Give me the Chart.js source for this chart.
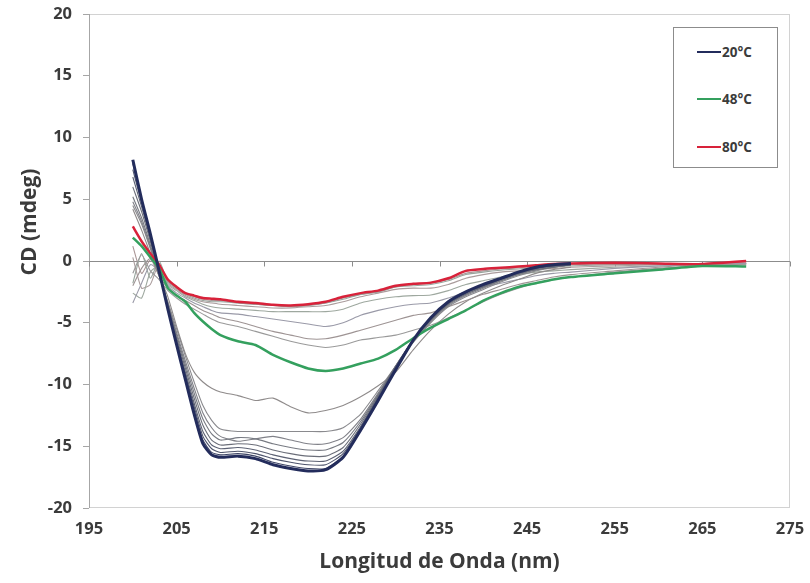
<!DOCTYPE html>
<html>
<head>
<meta charset="utf-8">
<script src="https://cdn.jsdelivr.net/npm/chart.js@4.4.1/dist/chart.umd.min.js"></script>
<style>
  html, body { margin: 0; padding: 0; background: #ffffff; }
  #wrap { position: relative; width: 810px; height: 583px; }
  #legend {
    position: absolute; left: 673px; top: 27px; width: 105px; height: 141px;
    border: 1.5px solid #8c8c8c; background: #fff; box-sizing: border-box;
    font-family: "Open Sans", "Liberation Sans", sans-serif; font-weight: 700;
    font-size: 13.5px; color: #3b3b3b;
  }
  .item { position: absolute; left: 23px; height: 18px; display: flex; align-items: center; }
  .sw { width: 24px; height: 2px; margin-right: 1px; }
</style>
</head>
<body>
<div id="wrap">
  <canvas id="c" width="810" height="583"></canvas>
  <div id="legend"></div>
</div>
<script>
// ---- data ----
const wavelengths = [200,201,202,203,204,205,206,207,208,209,210,212,214,216,218,220,222,224,226,228,230,232,234,236,238,240,242,244,246,248,250,255,260,265,270];
const xTicks = [195,205,215,225,235,245,255,265,275];
const yTicks = [-20,-15,-10,-5,0,5,10,15,20];

const t20 = [8.2,5.0,2.2,-0.8,-3.9,-6.8,-9.6,-12.4,-14.8,-15.7,-15.9,-15.8,-16.0,-16.5,-16.8,-17.0,-16.9,-15.9,-13.7,-11.3,-8.8,-6.4,-4.6,-3.3,-2.5,-1.9,-1.4,-0.9,-0.5,-0.3,-0.2,null,null,null,null];
const t24 = [7.9,4.9,2.1,-0.9,-3.9,-6.7,-9.4,-12.1,-14.5,-15.5,-15.7,-15.6,-15.8,-16.3,-16.6,-16.8,-16.8,-15.8,-13.6,-11.2,-8.7,-6.4,-4.6,-3.3,-2.5,-1.9,-1.4,-0.9,-0.5,-0.3,-0.2,null,null,null,null];
const t28 = [7.4,4.7,2.0,-0.9,-3.8,-6.6,-9.2,-11.8,-14.2,-15.2,-15.5,-15.4,-15.6,-16.0,-16.3,-16.5,-16.5,-15.6,-13.5,-11.1,-8.6,-6.4,-4.7,-3.4,-2.6,-2.0,-1.4,-0.9,-0.6,-0.4,-0.3,null,null,null,null];
const t32 = [6.8,4.4,1.8,-1.0,-3.7,-6.4,-9.0,-11.5,-13.8,-14.9,-15.2,-15.1,-15.3,-15.7,-16.0,-16.2,-16.2,-15.4,-13.4,-11.0,-8.6,-6.4,-4.7,-3.4,-2.6,-2.0,-1.5,-1.0,-0.6,-0.4,-0.3,null,null,null,null];
const t36 = [6.0,4.0,1.6,-1.0,-3.6,-6.2,-8.7,-11.1,-13.3,-14.5,-14.9,-14.8,-14.9,-15.3,-15.6,-15.8,-15.8,-15.1,-13.2,-10.9,-8.5,-6.4,-4.8,-3.5,-2.7,-2.1,-1.5,-1.0,-0.7,-0.5,-0.3,null,null,null,null];
const t38 = [5.2,3.5,1.3,-1.1,-3.5,-6.0,-8.4,-10.7,-12.8,-14.0,-14.5,-14.3,-14.4,-14.8,-15.1,-15.3,-15.3,-14.7,-13.0,-10.8,-8.5,-6.4,-4.8,-3.5,-2.7,-2.1,-1.6,-1.1,-0.7,-0.5,-0.3,null,null,null,null];
const t40 = [4.8,3.2,1.1,-1.2,-3.4,-5.8,-8.1,-10.3,-12.3,-13.5,-14.2,-14.6,-14.4,-14.2,-14.5,-14.8,-14.8,-14.3,-12.8,-10.7,-8.5,-6.5,-4.9,-3.6,-2.8,-2.2,-1.6,-1.1,-0.7,-0.5,-0.3,null,null,null,null];
const t42 = [4.5,3.0,1.0,-1.2,-3.3,-5.5,-7.7,-9.8,-11.7,-12.9,-13.6,-13.8,-13.8,-13.8,-13.8,-13.8,-13.8,-13.5,-12.4,-10.5,-8.5,-6.6,-5.0,-3.7,-2.9,-2.3,-1.7,-1.2,-0.8,-0.5,-0.3,null,null,null,null];
const t44 = [4.2,2.5,0.6,-1.2,-2.9,-5.3,-7.5,-9.0,-9.8,-10.3,-10.6,-10.9,-11.3,-11.1,-11.8,-12.3,-12.1,-11.7,-11.0,-10.1,-9.0,-7.2,-5.6,-4.3,-3.3,-2.6,-2.0,-1.5,-1.0,-0.7,-0.5,null,null,null,null];
const t48 = [1.9,1.2,0.3,-0.6,-2.2,-2.8,-3.3,-4.2,-4.9,-5.5,-6.0,-6.5,-6.8,-7.6,-8.2,-8.7,-8.9,-8.7,-8.3,-7.9,-7.2,-6.25,-5.4,-4.7,-4.0,-3.2,-2.6,-2.1,-1.8,-1.5,-1.3,-1.0,-0.7,-0.4,-0.45];
const t52 = [-1.0,0.5,-0.8,-1.5,-2.4,-3.0,-3.5,-3.9,-4.3,-4.7,-5.0,-5.3,-5.7,-6.1,-6.5,-6.8,-7.0,-6.8,-6.4,-6.2,-6.0,-5.6,-5.2,-4.6,-4.0,-3.3,-2.7,-2.2,-1.8,-1.5,-1.3,-0.9,-0.6,-0.4,-0.3];
const t55 = [-2.0,-0.6,0.2,-1.2,-2.2,-2.8,-3.2,-3.6,-4.0,-4.3,-4.6,-4.9,-5.3,-5.7,-6.0,-6.3,-6.3,-6.0,-5.6,-5.2,-4.8,-4.4,-4.2,-3.7,-3.2,-2.7,-2.3,-1.9,-1.6,-1.3,-1.1,-0.8,-0.5,-0.3,-0.3];
const t58 = [-3.4,-1.8,-0.3,-0.8,-2.0,-2.6,-3.0,-3.4,-3.7,-4.0,-4.2,-4.3,-4.5,-4.7,-4.9,-5.1,-5.3,-5.0,-4.4,-4.0,-3.7,-3.5,-3.4,-3.0,-2.5,-2.1,-1.8,-1.5,-1.2,-1.0,-0.9,-0.6,-0.4,-0.3,-0.2];
const t62 = [-2.6,-3.0,-0.9,-0.4,-1.9,-2.4,-2.9,-3.2,-3.5,-3.7,-3.8,-3.9,-4.0,-4.1,-4.1,-4.1,-4.1,-3.9,-3.4,-3.1,-2.9,-2.8,-2.75,-2.4,-1.9,-1.6,-1.3,-1.1,-0.9,-0.8,-0.7,-0.5,-0.4,-0.3,-0.2];
const t66 = [0.3,-2.2,-1.9,-0.2,-1.8,-2.3,-2.8,-3.1,-3.3,-3.4,-3.5,-3.6,-3.7,-3.8,-3.8,-3.7,-3.6,-3.3,-2.9,-2.6,-2.3,-2.2,-2.2,-1.9,-1.4,-1.1,-0.9,-0.8,-0.7,-0.6,-0.5,-0.4,-0.3,-0.2,-0.2];
const t70 = [-1.8,0.6,-1.4,0.0,-1.7,-2.2,-2.7,-3.0,-3.2,-3.3,-3.3,-3.4,-3.5,-3.6,-3.7,-3.6,-3.4,-3.1,-2.7,-2.5,-2.1,-2.0,-1.9,-1.6,-1.1,-0.9,-0.75,-0.65,-0.55,-0.45,-0.4,-0.3,-0.3,-0.2,-0.2];
const t75 = [1.2,-1.0,0.1,-0.3,-1.6,-2.2,-2.6,-2.9,-3.1,-3.2,-3.2,-3.4,-3.5,-3.6,-3.7,-3.6,-3.4,-3.0,-2.7,-2.5,-2.1,-1.9,-1.8,-1.5,-1.0,-0.8,-0.65,-0.55,-0.45,-0.4,-0.3,-0.3,-0.2,-0.2,-0.1];
const t80 = [2.8,1.6,0.6,-0.3,-1.5,-2.1,-2.6,-2.8,-3.0,-3.05,-3.1,-3.3,-3.4,-3.55,-3.6,-3.5,-3.3,-2.9,-2.6,-2.4,-2.0,-1.85,-1.75,-1.4,-0.8,-0.65,-0.55,-0.45,-0.35,-0.25,-0.2,-0.15,-0.2,-0.25,0.0];

// highlighted series (legend) and background series
const highlighted = [
  { label: '20°C', values: t20, color: '#232c5c', width: 3 },
  { label: '48°C', values: t48, color: '#34a05e', width: 2.5 },
  { label: '80°C', values: t80, color: '#d8223a', width: 2.5 }
];
const others = [
  { label: '24°C', values: t24, color: '#3e4566' },
  { label: '28°C', values: t28, color: '#4e546c' },
  { label: '32°C', values: t32, color: '#5d6274' },
  { label: '36°C', values: t36, color: '#6b6e79' },
  { label: '38°C', values: t38, color: '#777a82' },
  { label: '40°C', values: t40, color: '#808188' },
  { label: '42°C', values: t42, color: '#8a8a8e' },
  { label: '44°C', values: t44, color: '#8f8b8b' },
  { label: '52°C', values: t52, color: '#9a9a9a' },
  { label: '55°C', values: t55, color: '#9e9494' },
  { label: '58°C', values: t58, color: '#9a9aa8' },
  { label: '62°C', values: t62, color: '#9ea89f' },
  { label: '66°C', values: t66, color: '#aa9c9c' },
  { label: '70°C', values: t70, color: '#98a49c' },
  { label: '75°C', values: t75, color: '#aa9696' }
];

function pts(values) {
  const out = [];
  wavelengths.forEach((w, i) => { if (values[i] !== null) out.push({ x: w, y: values[i] }); });
  return out;
}

const datasets = [];
highlighted.forEach((s, i) => datasets.push({
  label: s.label, data: pts(s.values), borderColor: s.color, borderWidth: s.width,
  pointRadius: 0, tension: 0.2, fill: false, order: i
}));
others.forEach(s => datasets.push({
  label: s.label, data: pts(s.values), borderColor: s.color, borderWidth: 1.1,
  pointRadius: 0, tension: 0.2, fill: false, order: 10
}));

const FONT = '"Open Sans", "Liberation Sans", sans-serif';
const TEXT = '#3b3b3b';

const frame = {
  id: 'frame',
  beforeDatasetsDraw(chart) {
    const { ctx, chartArea: a, scales } = chart;
    ctx.save();
    ctx.strokeStyle = '#d2d2d2';
    ctx.lineWidth = 1;
    ctx.strokeRect(a.left + 0.5, a.top + 0.5, a.right - a.left - 1, a.bottom - a.top - 1);
    ctx.strokeStyle = '#a6a6a6';
    ctx.beginPath(); ctx.moveTo(a.left + 0.5, a.top); ctx.lineTo(a.left + 0.5, a.bottom); ctx.stroke();
    const y0 = Math.round(scales.y.getPixelForValue(0)) + 0.5;
    ctx.strokeStyle = '#8c8c8c';
    ctx.beginPath(); ctx.moveTo(a.left, y0); ctx.lineTo(a.right, y0); ctx.stroke();
    xTicks.forEach(v => {
      const x = Math.round(scales.x.getPixelForValue(v)) + 0.5;
      ctx.beginPath(); ctx.moveTo(x, y0); ctx.lineTo(x, y0 + 5); ctx.stroke();
    });
    ctx.restore();
  },
  afterDraw(chart) {
    const { ctx, chartArea: a } = chart;
    ctx.save();
    ctx.fillStyle = TEXT;
    ctx.font = 'bold 21px ' + FONT;
    ctx.textAlign = 'center';
    ctx.textBaseline = 'middle';
    ctx.fillText('Longitud de Onda (nm)', (a.left + a.right) / 2, 562);
    ctx.translate(30, 222);
    ctx.rotate(-Math.PI / 2);
    ctx.fillText('CD (mdeg)', 0, 0);
    ctx.restore();
  }
};

const tickFont = { family: FONT, size: 16.5, weight: 'bold' };

new Chart(document.getElementById('c'), {
  type: 'line',
  data: { datasets },
  options: {
    responsive: false, animation: false,
    layout: { padding: { top: 14, right: 20, left: 0, bottom: 0 } },
    plugins: { legend: { display: false }, tooltip: { enabled: false } },
    scales: {
      x: {
        type: 'linear', min: 195, max: 275,
        afterBuildTicks: s => { s.ticks = xTicks.map(v => ({ value: v })); },
        ticks: { font: tickFont, color: TEXT, padding: 3, maxRotation: 0 },
        grid: { display: false },
        border: { display: false },
        afterFit: s => { s.height = 75; }
      },
      y: {
        min: -20, max: 20,
        afterBuildTicks: s => { s.ticks = yTicks.map(v => ({ value: v })); },
        ticks: { font: tickFont, color: TEXT, padding: 11 },
        grid: { drawOnChartArea: false, drawTicks: true, tickLength: 6, color: '#a6a6a6' },
        border: { display: false },
        afterFit: s => { s.width = 89; s.paddingTop = 0; s.paddingBottom = 0; }
      }
    }
  },
  plugins: [frame]
});

// legend box (only the three highlighted series)
const leg = document.getElementById('legend');
const tops = [15, 62, 110];
highlighted.forEach((s, i) => {
  const d = document.createElement('div');
  d.className = 'item';
  d.style.top = tops[i] + 'px';
  d.innerHTML = '<span class="sw" style="background:' + s.color + '"></span><span>' + s.label + '</span>';
  leg.appendChild(d);
});
</script>
</body>
</html>
